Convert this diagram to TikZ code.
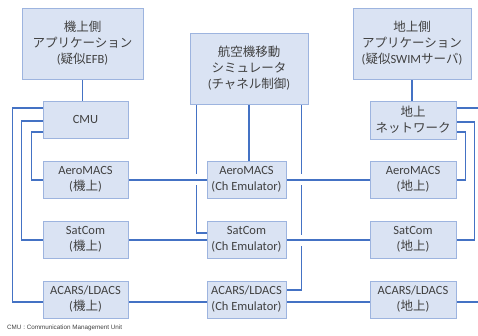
\documentclass[tikz,border=0pt]{standalone}
\usepackage{fontspec}
\setmainfont{Carlito}
\newfontfamily\jp{Noto Sans CJK JP}
\newfontfamily\notefont{Liberation Sans}
\usetikzlibrary{backgrounds}
\definecolor{boxfill}{HTML}{DAE3F3}
\definecolor{boxline}{HTML}{9DB4DF}
\definecolor{wire}{HTML}{4472C4}
\definecolor{ink}{HTML}{404040}
\begin{document}
\begin{tikzpicture}[x=1pt,y=-1pt,
  blk/.style={draw=boxline, fill=boxfill, line width=0.9pt, align=center,
    text=ink, inner sep=0pt, font=\fontsize{12.5}{16}\selectfont},
  wirepath/.style={draw=wire, line width=1.3pt},
  bridge/.style={wirepath, preaction={draw=white, line width=11pt}}]
\useasboundingbox (0,0) rectangle (478,336);

% applications
\node[blk, minimum width=121pt, minimum height=71pt] (appL) at (82.5,43.5)
  {{\jp 機上側}\\{\jp アプリケーション}\\({\jp 疑似}EFB)};
\node[blk, minimum width=118pt, minimum height=71pt] (appC) at (249,68.5)
  {{\jp 航空機移動}\\{\jp シミュレータ}\\({\jp チャネル制御})};
\node[blk, minimum width=118pt, minimum height=71pt] (appR) at (412,43.5)
  {{\jp 地上側}\\{\jp アプリケーション}\\({\jp 疑似}SWIM{\jp サーバ})};

% CMU and ground network
\node[blk, minimum width=85pt, minimum height=37pt] (cmu) at (85.5,119.5) {CMU};
\node[blk, minimum width=86pt, minimum height=38pt] (gnd) at (413,120)
  {{\jp 地上}\\{\jp ネットワーク}};

% links: airborne / channel emulator / ground
\node[blk, minimum width=85pt, minimum height=37pt] (aeroL) at (85.5,179.5) {AeroMACS\\({\jp 機上})};
\node[blk, minimum width=79pt, minimum height=37pt] (aeroC) at (246.5,179.5) {AeroMACS\\(Ch Emulator)};
\node[blk, minimum width=86pt, minimum height=37pt] (aeroR) at (413,179.5) {AeroMACS\\({\jp 地上})};

\node[blk, minimum width=85pt, minimum height=37pt] (satL) at (85.5,239.5) {SatCom\\({\jp 機上})};
\node[blk, minimum width=79pt, minimum height=37pt] (satC) at (246.5,239.5) {SatCom\\(Ch Emulator)};
\node[blk, minimum width=86pt, minimum height=37pt] (satR) at (413,239.5) {SatCom\\({\jp 地上})};

\node[blk, minimum width=85pt, minimum height=37pt] (acarsL) at (85.5,299.5) {ACARS/LDACS\\({\jp 機上})};
\node[blk, minimum width=79pt, minimum height=37pt] (acarsC) at (246.5,299.5) {ACARS/LDACS\\(Ch Emulator)};
\node[blk, minimum width=86pt, minimum height=37pt] (acarsR) at (413,299.5) {ACARS/LDACS\\({\jp 地上})};

\node[anchor=base west, inner sep=0pt, text=ink,
  font=\notefont\fontsize{6.3}{7}\selectfont] (note) at (7,329)
  {CMU : Communication Management Unit};

\begin{pgfonlayer}{background}
\clip (0,0) rectangle (478,336);
% applications to their stacks
\draw[wirepath] (appL.south) -- (appL.south |- cmu.north);
\draw[wirepath] (appR.south) -- (appR.south |- gnd.north);
\draw[wirepath] (appC.south) -- (appC.south |- aeroC.north);
\draw[wirepath] ([xshift=7pt]appC.south west) |- ([yshift=6.5pt]satC.west);
\draw[wirepath] ([xshift=-7pt]appC.south east) |- ([yshift=9.5pt]acarsC.east);

% CMU to airborne links
\draw[wirepath] ([yshift=11.5pt]cmu.west) -- ++(-30pt,0) |- ([yshift=-2.5pt]acarsL.west);
\draw[wirepath] ([yshift=-1.5pt]cmu.west) -- ++(-21pt,0) |- ([yshift=-0.5pt]satL.west);
\draw[wirepath] ([yshift=-12.5pt]cmu.west) -- ++(-11pt,0) |- ([yshift=-0.5pt]aeroL.west);

% ground network to ground links
\draw[wirepath] ([yshift=12pt]gnd.east) -- ++(30pt,0) |- ([yshift=-2.5pt]acarsR.east);
\draw[wirepath] ([yshift=-2pt]gnd.east) -- ++(18pt,0) |- ([yshift=-0.5pt]satR.east);
\draw[wirepath] ([yshift=-12pt]gnd.east) -- ++(9pt,0) |- ([yshift=-0.5pt]aeroR.east);

% radio links through the channel emulators
\draw[bridge] ([yshift=-0.5pt]aeroL.east) -- ([yshift=-0.5pt]aeroC.west);
\draw[bridge] ([yshift=-0.5pt]aeroC.east) -- ([yshift=-0.5pt]aeroR.west);
\draw[bridge] ([yshift=-0.5pt]satL.east) -- ([yshift=-0.5pt]satC.west);
\draw[bridge] ([yshift=-0.5pt]satC.east) -- ([yshift=-0.5pt]satR.west);
\draw[bridge] ([yshift=-2.5pt]acarsL.east) -- ([yshift=-2.5pt]acarsC.west);
\draw[bridge] ([yshift=-2.5pt]acarsC.east) -- ([yshift=-2.5pt]acarsR.west);
\end{pgfonlayer}
\end{tikzpicture}
\end{document}
